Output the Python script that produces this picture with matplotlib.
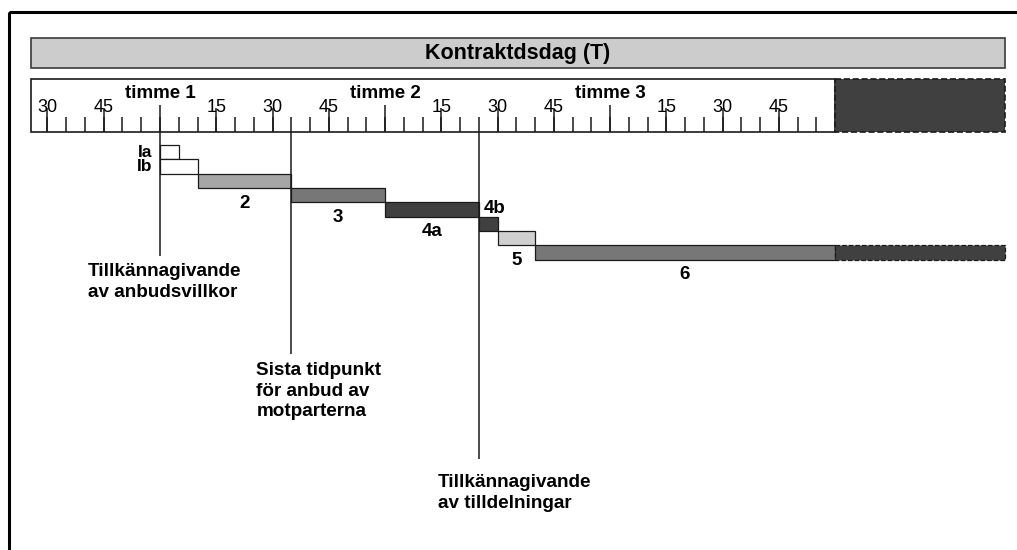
import numpy as np
import matplotlib
matplotlib.use('Agg')
import matplotlib.pyplot as plt
from matplotlib.patches import Rectangle

plt.rcParams['font.family'] = ['Liberation Sans', 'DejaVu Sans']

# ---------------- data ----------------
phases = ['Ia', 'Ib', '2', '3', '4a', '4b', '5', '6']
phase_start = [60, 60, 70, 95, 120, 145, 150, 160]      # minutes after hour 0
phase_len = [5, 10, 25, 25, 25, 5, 10, 80]
phase_colors = ['#ffffff', '#ffffff', '#a6a6a6', '#777777', '#404040',
                '#404040', '#d0d0d0', '#777777']
ext_start = 240          # rest of the day (dashed, dark)
ext_len = 45.3

ruler_start = 25.6
ruler_end = 240
hour_ticks = [60, 120, 180]
hour_labels = ['timme 1', 'timme 2', 'timme 3']
quarter_ticks = [30, 45, 75, 90, 105, 135, 150, 165, 195, 210, 225]
quarter_labels = ['30', '45', '15', '30', '45', '15', '30', '45', '15', '30', '45']
minor_ticks = list(range(30, 240, 5))

events = [60, 95, 145]
event_texts = ['Tillkännagivande\nav anbudsvillkor',
               'Sista tidpunkt\nför anbud av\nmotparterna',
               'Tillkännagivande\nav tilldelningar']
title = 'Kontraktdsdag (T)'

# ---------------- layout ----------------
W, H, DPI = 1017, 550, 100
PX_PER_MIN = 3.75
X0_PX, X0_T = 160, 60
ROW_PX = 14.35
ROW0_PX = 145

fig = plt.figure(figsize=(W / DPI, H / DPI), dpi=DPI)
ax = fig.add_axes([0, 0, 1, 1])
ax.set_xlim(X0_T - X0_PX / PX_PER_MIN, X0_T + (W - X0_PX) / PX_PER_MIN)
ax.set_ylim((H - ROW0_PX) / ROW_PX, -ROW0_PX / ROW_PX)
ax.axis('off')


def ry(px):
    return (px - ROW0_PX) / ROW_PX


def mx(px):
    return px / PX_PER_MIN


def tx(px):
    return X0_T + (px - X0_PX) / PX_PER_MIN


EDGE = '#1a1a1a'

# outer frame (cut by figure edges)
ax.add_patch(Rectangle((tx(8.7), ry(12.2)), 400, 60, fill=False,
                       lw=2.2, ec='black', clip_on=True))

# title banner
day_end = ext_start + ext_len
ax.add_patch(Rectangle((ruler_start, ry(38)), day_end - ruler_start,
                       ry(68) - ry(38), fc='#cccccc', ec='#3a3a3a', lw=1.2))
ax.text((ruler_start + day_end) / 2, ry(53.5), title, ha='center', va='center',
        fontsize=15.5, fontweight='bold')

# ruler box
ax.add_patch(Rectangle((ruler_start, ry(79)), ruler_end - ruler_start,
                       ry(132) - ry(79), fc='white', ec=EDGE, lw=1.2))
ax.add_patch(Rectangle((ext_start, ry(79)), ext_len, ry(132) - ry(79),
                       fc='#404040', ec=EDGE, lw=1.2, ls='--'))

ax.vlines(minor_ticks, ry(132), ry(116.7), color=EDGE, lw=1.1)
ax.vlines(quarter_ticks, ry(132), ry(108), color=EDGE, lw=1.1)
ax.vlines(hour_ticks, ry(132), ry(105), color=EDGE, lw=1.1)
for t, lbl in zip(quarter_ticks, quarter_labels):
    ax.text(t, ry(107.5), lbl, ha='center', va='center', fontsize=13)
for t, lbl in zip(hour_ticks, hour_labels):
    ax.text(t, ry(93.5), lbl, ha='center', va='center', fontsize=13.5,
            fontweight='bold')

# phase bars
rows = np.arange(len(phases))
ax.barh(rows, phase_len, left=phase_start, height=1, align='edge',
        color=phase_colors, edgecolor=EDGE, lw=0.9)
ax.barh(rows[-1], ext_len, left=ext_start, height=1, align='edge',
        color='#404040', edgecolor=EDGE, lw=0.9, linestyle='--')

for i, (name, s, d) in enumerate(zip(phases, phase_start, phase_len)):
    if name in ('Ia', 'Ib'):
        ax.text(s - mx(8), i + 0.5, name, ha='right', va='center',
                fontsize=12.5, fontweight='bold')
    elif name == '4b':
        ax.text(s + mx(5), i - 0.55, name, ha='left', va='center',
                fontsize=13.5, fontweight='bold')
    else:
        ax.text(s + d / 2, i + 2.05, name, ha='center', va='center',
                fontsize=13.5, fontweight='bold')

# event lines and annotations
line_end_px = [256, 354, 459]
text_dx_px = [-72, -35, -41]
text_top_px = [263, 362, 474]
for t, yend, dx, ytop, txt in zip(events, line_end_px, text_dx_px,
                                  text_top_px, event_texts):
    ax.vlines(t, ry(132), ry(yend), color=EDGE, lw=1.1)
    ax.text(t + mx(dx), ry(ytop), txt, ha='left', va='top', fontsize=13.6,
            fontweight='bold', linespacing=1.27)

fig.savefig('out.png', dpi=DPI)
